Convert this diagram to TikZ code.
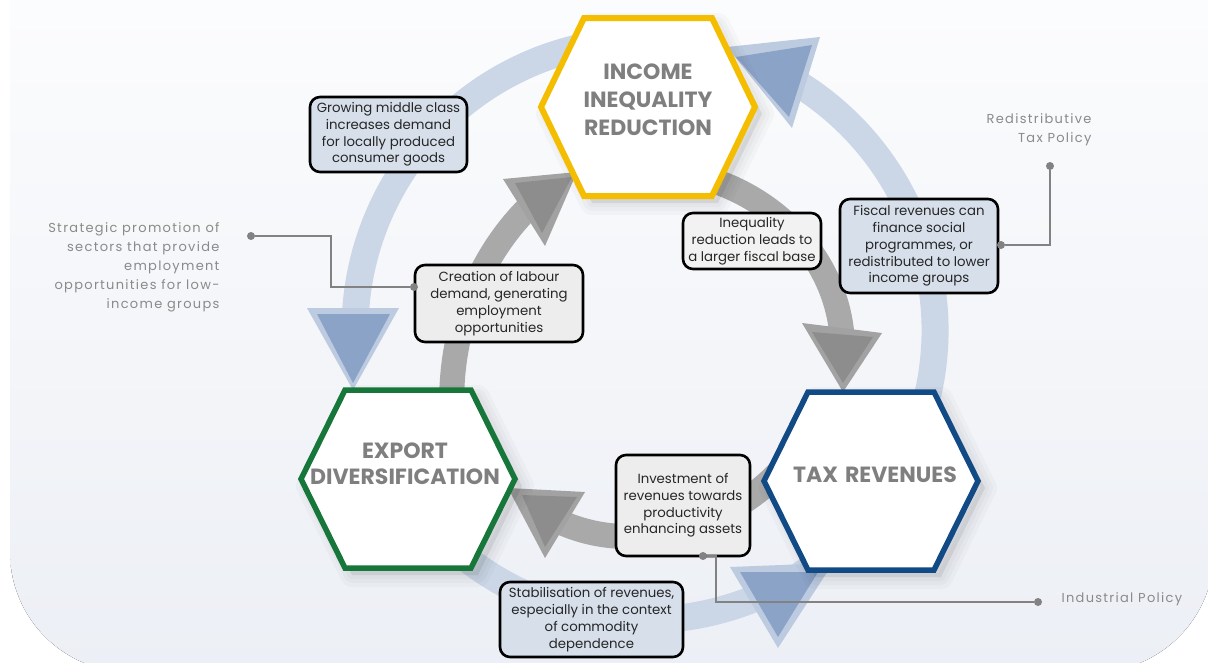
\documentclass[tikz,border=0pt]{standalone}
\usepackage{fontspec}
\setmainfont{Poppins}
\newfontfamily\sidefont[LetterSpace=10]{Poppins}
\definecolor{ringblue}{HTML}{CBD7E7}
\definecolor{triout}{HTML}{BDCBE1}
\definecolor{triin}{HTML}{8CA3C8}
\definecolor{ringgray}{HTML}{A9A9A9}
\definecolor{grayout}{HTML}{A2A2A2}
\definecolor{grayin}{HTML}{8D8D8D}
\definecolor{hexyellow}{HTML}{F5BD00}
\definecolor{hexgreen}{HTML}{17773A}
\definecolor{hexblue}{HTML}{124A86}
\definecolor{boxblue}{HTML}{D6DFEA}
\definecolor{boxgray}{HTML}{EDEDED}
\definecolor{boxlight}{HTML}{F2F2F2}
\definecolor{labelgray}{HTML}{7F7F7F}
\definecolor{sidegray}{HTML}{8A8A8A}
\definecolor{conngray}{HTML}{828282}
\definecolor{bgbottom}{HTML}{ECEFF5}
\definecolor{textdark}{HTML}{262626}
\newcommand\hexpath{(-107,0) -- (-63,-89) -- (63,-89) -- (107,0) -- (63,89) -- (-63,89) -- cycle}
\tikzset{
  ring/.style={draw=ringblue, line width=27pt},
  gring/.style={draw=ringgray, line width=25pt},
  triO/.style={fill=triout},
  triI/.style={fill=triin},
  gtriO/.style={fill=grayout},
  gtriI/.style={fill=grayin},
  hex/.style={fill=white, line width=5.5pt, line join=miter},
  hexshadow/.style={fill=black, fill opacity=0.025, draw=black, draw opacity=0.025, line join=round},
  hexlabel/.style={font=\fontsize{22}{28}\selectfont\bfseries, text=labelgray, align=center},
  infobox/.style={draw=black, line width=2.6pt, rounded corners=10pt, align=center,
    inner sep=0pt, font=\fontsize{13.3}{16.8}\selectfont, text=textdark},
  sidelabel/.style={font=\sidefont\fontsize{13}{19}\selectfont, text=sidegray},
  conn/.style={draw=conngray, line width=1.8pt},
  cdot/.style={circle, fill=conngray, inner sep=0pt, minimum size=8pt},
}
\begin{document}
\begin{tikzpicture}[x=1pt,y=-1pt]
\useasboundingbox (0,0) rectangle (1208,662);
\clip (0,0) rectangle (1208,662);
\fill[white] (0,0) rectangle (1208,662);
\fill[top color=white, middle color=white!55!bgbottom, bottom color=bgbottom, rounded corners=120pt] (10,-150) rectangle (1214,672);

% outer ring
\coordinate (oc) at (645,330);
\draw[ring] (oc) ++(166:290) arc[start angle=166, end angle=-58.5, radius=290];
\draw[ring] (oc) ++(-75:290) arc[start angle=-75, end angle=-177, radius=290];
% outer arrowheads
\fill[triO] (727,47) -- (820,37) -- (792,128) -- cycle;
\fill[triI] (736,57) -- (812,45) -- (789,117) -- cycle;
\fill[triO] (307,308) -- (399,308) -- (353,390) -- cycle;
\fill[triI] (317,314) -- (390,314) -- (353,383) -- cycle;
\fill[triO] (730,567) -- (833,563) -- (778,648) -- cycle;
\fill[triI] (740,572) -- (818,572) -- (778,637) -- cycle;

% inner gray ring
\draw[gring] (452,415) .. controls (448,330) and (480,255) .. (530,206);
\draw[gring] (705,178) .. controls (780,200) and (836,262) .. (842,336);
\draw[gring] (785,465) .. controls (740,520) and (640,560) .. (558,521);
\fill[gtriO] (503,179) -- (577,172) -- (545,246) -- cycle;
\fill[gtriI] (515,183) -- (572,177) -- (542,233) -- cycle;
\fill[gtriO] (802,323) -- (882,333) -- (843,392) -- cycle;
\fill[gtriI] (812,332) -- (873,337) -- (843,383) -- cycle;
\fill[gtriO] (508,488) -- (585,492) -- (545,558) -- cycle;
\fill[gtriI] (522,495) -- (577,497) -- (545,547) -- cycle;

% hexagon shadows
\foreach \cx/\cy in {648/107, 408/479, 871/481}{
  \foreach \w in {24,16,8}{
    \path[hexshadow, line width=\w pt, shift={(\cx+7,\cy+7)}] \hexpath;
  }
}
% hexagons
\draw[hex, draw=hexyellow, line width=6pt, shift={(648,107)}] (-107,0) -- (-64,-89) -- (64,-89) -- (107,0) -- (64,89) -- (-64,89) -- cycle;
\draw[hex, draw=hexgreen, shift={(408,479)}] \hexpath;
\draw[hex, draw=hexblue, shift={(871,481)}] \hexpath;
\node[hexlabel] (income) at (648,99.5) {INCOME\\INEQUALITY\\REDUCTION};
\node[hexlabel, font=\fontsize{22}{26.5}\selectfont\bfseries] (export) at (405,463.5) {EXPORT\\DIVERSIFICATION};
\node[hexlabel] (tax) at (875,475) {TAX\hspace{7pt}REVENUES};

% boxes
\node[infobox, fill=boxblue, minimum width=157pt, minimum height=75pt] (grow) at (388.5,134.5)
  {Growing middle class\\increases demand\\for locally produced\\consumer goods};
\node[infobox, fill=boxgray, minimum width=168pt, minimum height=77pt] (creat) at (499,303.5)
  {Creation of labour\\demand, generating\\employment\\opportunities};
\node[infobox, fill=boxlight, minimum width=138pt, minimum height=56pt] (ineq) at (752,241)
  {Inequality\\reduction leads to\\a larger fiscal base};
\node[infobox, fill=boxblue, minimum width=158pt, minimum height=94pt] (fisc) at (919,246)
  {Fiscal revenues can\\finance social\\programmes, or\\redistributed to lower\\income groups};
\node[infobox, fill=boxgray, minimum width=134pt, minimum height=101pt] (invest) at (683,505.5)
  {Investment of\\revenues towards\\productivity\\enhancing assets};
\node[infobox, fill=boxblue, minimum width=183pt, minimum height=75pt] (stab) at (591.5,619.5)
  {Stabilisation of revenues,\\especially in the context\\of commodity\\dependence};

% side labels
\node[sidelabel, anchor=east, align=right] (strat) at (223,267)
  {Strategic promotion of\\sectors that provide\\employment\\opportunities for low-\\income groups};
\node[sidelabel, anchor=east, align=right] (redis) at (1095,129.5) {Redistributive\\Tax Policy};
\node[sidelabel, anchor=west] (indus) at (1058,599) {Industrial Policy};

% connectors
\node[cdot] (sdot) at (251,236) {};
\node[cdot] (cdotA) at (414,287) {};
\coordinate (sbend) at (331,287);
\draw[conn] (sdot) -| (sbend) -- (cdotA);
\node[cdot] (rdot) at (1050,166) {};
\node[cdot] (fdot) at (1001,245) {};
\draw[conn] (rdot) |- (fdot);
\node[cdot] (idot) at (703,556) {};
\node[cdot] (ipdot) at (1038,602) {};
\coordinate (ibend) at (716,556);
\draw[conn] (idot) -- (ibend) |- (ipdot);
\end{tikzpicture}
\end{document}
